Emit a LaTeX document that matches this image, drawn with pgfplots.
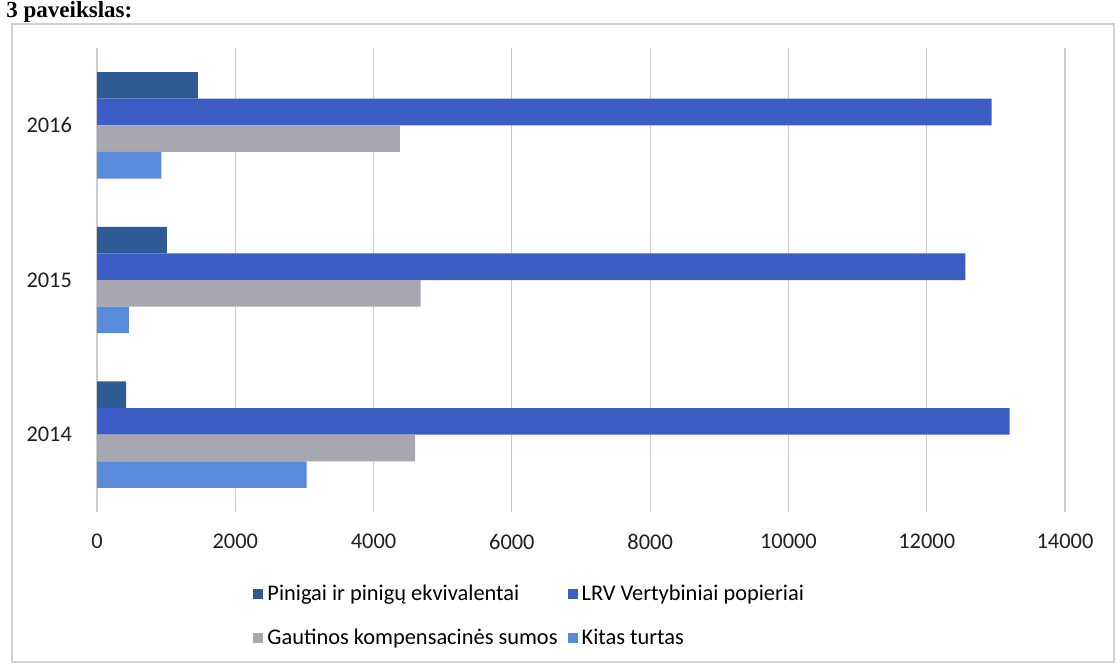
\documentclass[border=0pt]{standalone}
\usepackage{pgfplots}
\pgfplotsset{compat=1.18}
\usepackage{fontspec}
\setmainfont{Carlito}
\newfontfamily\hdfont{Liberation Serif}

\definecolor{cPin}{HTML}{2E5A96}
\definecolor{cLrv}{HTML}{3B5DC4}
\definecolor{cGau}{HTML}{A7A7AF}
\definecolor{cKit}{HTML}{5A8BDA}

\begin{document}
\begin{tikzpicture}
  \useasboundingbox (0pt,0pt) rectangle (560pt,333pt);
  % header at the top of the scan
  \node[anchor=base west, inner sep=0pt, font=\hdfont\bfseries\fontsize{11.5}{13}\selectfont] at (3pt,324pt) {3 paveikslas:};
  \draw[black!18, line width=0.6pt] (6pt,2pt) rectangle (557pt,321pt);
  \begin{axis}[
      at={(48.5pt,77pt)}, anchor=south west,
      scale only axis,
      width=484pt, height=232pt,
      xmin=0, xmax=14000,
      ymin=-0.5, ymax=2.5,
      xtick={0,2000,...,14000},
      ytick={0,1,2},
      yticklabels={2014,2015,2016},
      major tick length=0pt,
      axis line style={draw=none},
      xmajorgrids=true,
      grid style={black!20, line width=0.6pt},
      scaled x ticks=false,
      /pgf/number format/assume math mode=true,
      xticklabel={\pgfmathprintnumber[fixed,precision=0,1000 sep={}]{\tick}},
      tick label style={font=\fontsize{11.2}{13}\selectfont, text=black!88},
      xticklabel style={yshift=-7.5pt},
      yticklabel style={xshift=-9pt},
      bar width=0.172,
      legend columns=2,
      legend cell align=left,
      legend style={
        at={(axis description cs:0.155,-0.14)}, anchor=north west,
        draw=none, fill=none,
        font=\fontsize{11.2}{13}\selectfont,
        row sep=8.5pt,
        /tikz/every even column/.append style={column sep=3pt},
      },
      legend image code/.code={\fill[#1] (0pt,-2.2pt) rectangle (5pt,2.8pt);},
    ]
    \addplot[xbar, bar shift=0.258, fill=cPin, draw=none] coordinates {(420,0) (1010,1) (1460,2)};
    \addplot[xbar, bar shift=0.086, fill=cLrv, draw=none] coordinates {(13200,0) (12560,1) (12940,2)};
    \addplot[xbar, bar shift=-0.086, fill=cGau, draw=none] coordinates {(4600,0) (4680,1) (4380,2)};
    \addplot[xbar, bar shift=-0.258, fill=cKit, draw=none] coordinates {(3030,0) (460,1) (930,2)};
    \legend{Pinigai ir pinigų ekvivalentai, LRV Vertybiniai popieriai, Gautinos kompensacinės sumos, Kitas turtas}
  \end{axis}
\end{tikzpicture}
\end{document}
